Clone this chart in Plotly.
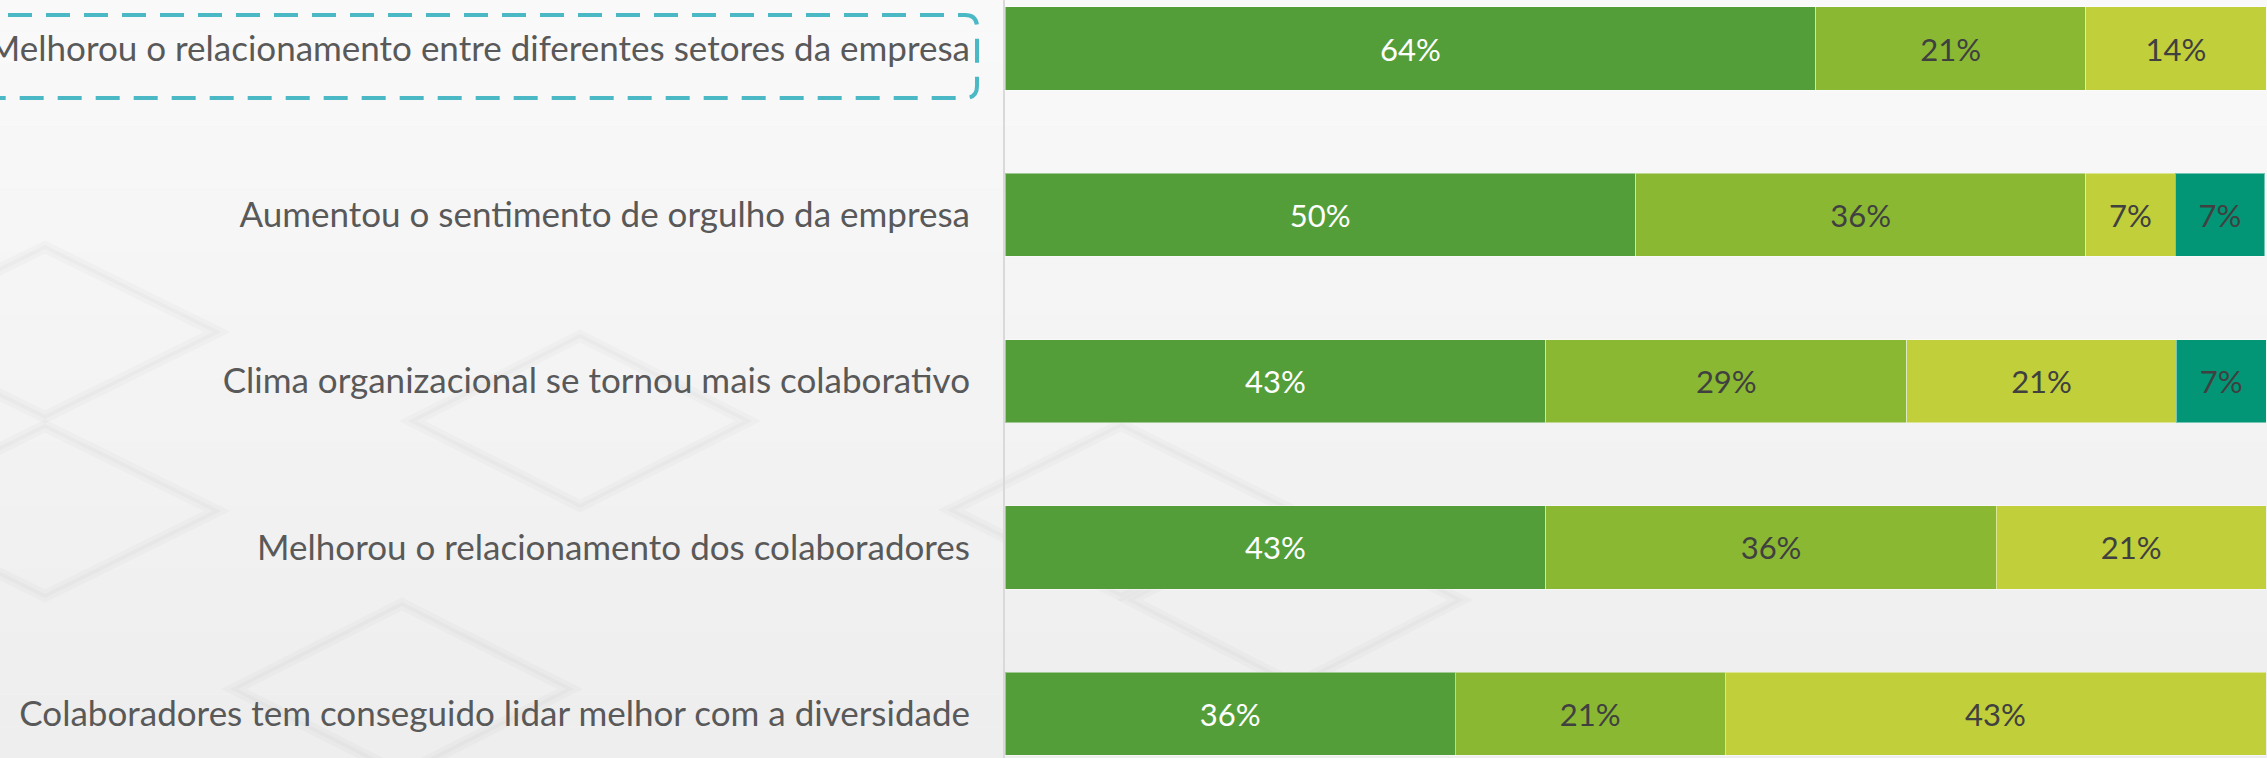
import plotly.graph_objects as go

categories = [
    "Melhorou o relacionamento entre diferentes setores da empresa",
    "Aumentou o sentimento de orgulho da empresa",
    "Clima organizacional se tornou mais colaborativo",
    "Melhorou o relacionamento dos colaboradores",
    "Colaboradores tem conseguido lidar melhor com a diversidade",
]
series_names = ["Concordo totalmente", "Concordo", "Neutro", "Discordo"]
series_1 = [64.3, 50.0, 42.9, 42.9, 35.7]
series_2 = [21.4, 35.7, 28.6, 35.7, 21.4]
series_3 = [14.3, 7.1, 21.4, 21.4, 42.9]
series_4 = [0.0, 7.1, 7.1, 0.0, 0.0]

colors = ["#549E39", "#8AB833", "#C0CF3A", "#029676"]
text_colors = ["#FFFFFF", "#404040", "#404040", "#404040"]

W, H = 2267, 758
L = 1005

fig = go.Figure()
for name, vals, c, tc in zip(series_names, [series_1, series_2, series_3, series_4], colors, text_colors):
    fig.add_trace(go.Bar(
        y=categories, x=vals, orientation="h", name=name,
        marker=dict(color=c, line=dict(color="rgba(255,255,255,0.45)", width=1)),
        width=0.5,
        text=[f"{round(v)}%" if v > 0 else "" for v in vals],
        textposition="inside", insidetextanchor="middle", textangle=0,
        textfont=dict(family="Lato, sans-serif", size=31, color=tc),
        hoverinfo="skip",
    ))

# pixel -> paper helpers (plot area spans x L..W-1, y 0..H)
pw = W - 1 - L
def px(p):
    return (p - L) / pw
def py(p):
    return 1 - p / H

shapes = []
# soft vertical background gradient (decoration)
n_bands = 24
top_c, bot_c = (249, 249, 249), (238, 238, 238)
for i in range(n_bands):
    t = i / (n_bands - 1)
    c = tuple(round(a + (b - a) * t) for a, b in zip(top_c, bot_c))
    shapes.append(dict(type="rect", xref="paper", yref="paper", layer="below",
                       x0=px(0), x1=px(W), y0=py(H * (i + 1) / n_bands), y1=py(H * i / n_bands),
                       fillcolor=f"rgb{c}", line=dict(width=0)))

# faint diamond pattern (decoration)
diamonds = [(45, 332, 172, 85), (45, 511, 172, 85), (580, 421, 168, 85),
            (402, 689, 168, 85), (1121, 510, 170, 85), (1295, 600, 165, 85)]
for cx, cy, hw, hh in diamonds:
    p = (f"M {px(cx)},{py(cy - hh)} L {px(cx + hw)},{py(cy)} L {px(cx)},{py(cy + hh)} "
         f"L {px(cx - hw)},{py(cy)} Z")
    shapes.append(dict(type="path", xref="paper", yref="paper", layer="below", path=p,
                       line=dict(color="rgba(0,0,0,0.018)", width=12)))
    shapes.append(dict(type="path", xref="paper", yref="paper", layer="below", path=p,
                       line=dict(color="rgba(0,0,0,0.02)", width=4)))

# dashed rounded box around first label
x0, x1, y0, y1, r = -30, 977, 15, 98, 12
path = (f"M {px(x0)},{py(y0)} L {px(x1 - r)},{py(y0)} Q {px(x1)},{py(y0)} {px(x1)},{py(y0 + r)} "
        f"L {px(x1)},{py(y1 - r)} Q {px(x1)},{py(y1)} {px(x1 - r)},{py(y1)} L {px(x0)},{py(y1)}")
shapes.append(dict(type="path", xref="paper", yref="paper", path=path,
                   line=dict(color="#4BB8C6", width=4, dash="24px,14px")))

fig.update_layout(
    width=W, height=H,
    margin=dict(l=L, r=1, t=0, b=0),
    barmode="stack",
    showlegend=False,
    hovermode=False,
    paper_bgcolor="#F3F3F3",
    plot_bgcolor="rgba(0,0,0,0)",
    xaxis=dict(range=[0, 100], showgrid=False, zeroline=False, showticklabels=False,
               fixedrange=True, automargin=False),
    yaxis=dict(
        type="category", range=[4.266, -0.292], showgrid=False, zeroline=False,
        showline=True, linecolor="#D9D9D9", linewidth=2, ticks="", automargin=False,
        fixedrange=True, ticklabelstandoff=26,
        tickfont=dict(family="Lato, sans-serif", size=35, color="#595959"),
    ),
    shapes=shapes,
)

fig.write_html("out.html", config={"displayModeBar": False},
               post_script="document.body.style.margin='0';document.body.style.background='#F3F3F3';")
